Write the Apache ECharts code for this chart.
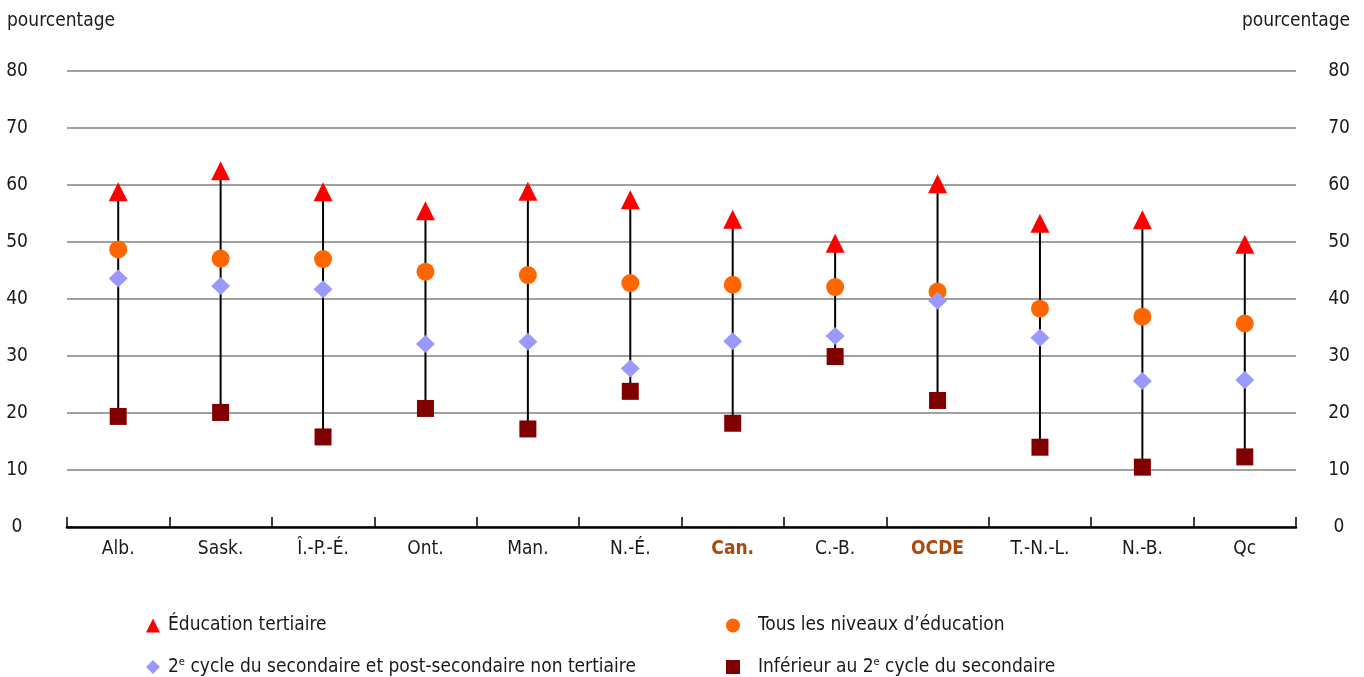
<!DOCTYPE html>
<html>
<head>
<meta charset="utf-8">
<script src="https://cdn.jsdelivr.net/npm/echarts@6/dist/echarts.min.js"></script>
<style>
  html, body { margin: 0; padding: 0; background: #fff; }
  #chart { width: 1364px; height: 677px; }
</style>
</head>
<body>
<div id="chart"></div>
<script>
// Regions along the x axis (Canada and OECD averages are highlighted)
const regions = ['Alb.', 'Sask.', 'Î.-P.-É.', 'Ont.', 'Man.', 'N.-É.', 'Can.', 'C.-B.', 'OCDE', 'T.-N.-L.', 'N.-B.', 'Qc'];
const highlighted = ['Can.', 'OCDE'];

// Percentages by education level
const tertiary            = [58.8, 62.5, 58.8, 55.5, 58.9, 57.4, 54.0, 49.8, 60.2, 53.3, 53.9, 49.6];
const allLevels           = [48.7, 47.1, 47.0, 44.8, 44.2, 42.8, 42.5, 42.1, 41.3, 38.3, 36.9, 35.7];
const upperSecondary      = [43.6, 42.3, 41.7, 32.1, 32.5, 27.8, 32.6, 33.5, 39.7, 33.2, 25.6, 25.8];
const belowUpperSecondary = [19.4, 20.1, 15.8, 20.8, 17.2, 23.8, 18.2, 29.9, 22.2, 14.0, 10.5, 12.3];

// Series names shown in the legend
const nameTertiary = 'Éducation tertiaire';
const nameAll = 'Tous les niveaux d’éducation';
const nameUpper = '2e cycle du secondaire et post-secondaire non tertiaire';
const nameBelow = 'Inférieur au 2e cycle du secondaire';

const yMin = 0, yMax = 80, yStep = 10;
const axisTitle = 'pourcentage';

const FONT = '"Liberation Sans Narrow", "DejaVu Sans Condensed", "Arial Narrow", sans-serif';
const FS = 19;
const TEXT = '#1a1a1a';
const ACCENT = '#A8490F';

// Vertical range (min..max) for each region, derived from the four series
const ranges = regions.map((_, i) => {
  const vals = [tertiary[i], allLevels[i], upperSecondary[i], belowUpperSecondary[i]];
  return [i, Math.min(...vals), Math.max(...vals)];
});

// Turn "2e" into a superscript e in legend labels
function supFormat(name) {
  return name.replace(/2e /g, '2{sup|e} ');
}
const legendText = {
  fontFamily: FONT, fontSize: FS, color: TEXT,
  rich: { sup: { fontFamily: FONT, fontSize: 11, color: TEXT, verticalAlign: 'top', padding: [0, 0, 9, 0] } }
};

function makeLegend(name, icon, left, top, textPad) {
  return {
    data: [{ name: name, icon: icon }],
    left: left, top: top,
    padding: 0,
    itemWidth: 14, itemHeight: 14,
    selectedMode: false,
    formatter: supFormat,
    textStyle: Object.assign({ padding: [0, 0, 0, textPad] }, legendText)
  };
}

const chart = echarts.init(document.getElementById('chart'));

chart.setOption({
  animation: false,
  backgroundColor: '#fff',
  textStyle: { fontFamily: FONT },
  grid: { left: 67, right: 68, top: 71, bottom: 150 },
  graphic: [
    { type: 'text', left: 7, top: 12, style: { text: axisTitle, font: FS + 'px ' + FONT, fill: TEXT } },
    { type: 'text', right: 14, top: 12, style: { text: axisTitle, font: FS + 'px ' + FONT, fill: TEXT } }
  ],
  legend: [
    makeLegend(nameTertiary, 'triangle', 146, 616, 3),
    makeLegend(nameAll, 'circle', 726, 616, 13),
    makeLegend(nameUpper, 'diamond', 146, 657, 3),
    makeLegend(nameBelow, 'rect', 726, 657, 13)
  ],
  xAxis: {
    type: 'category',
    data: regions,
    boundaryGap: true,
    axisLine: { lineStyle: { color: '#000', width: 2.5 } },
    axisTick: { show: true, inside: true, interval: 0, length: 10, lineStyle: { color: '#000', width: 1.5 } },
    axisLabel: {
      interval: 0,
      margin: 13,
      fontFamily: FONT, fontSize: FS, color: TEXT,
      formatter: v => highlighted.includes(v) ? '{hl|' + v + '}' : v,
      rich: { hl: { fontFamily: FONT, fontSize: FS, fontWeight: 'bold', color: ACCENT } }
    },
    splitLine: { show: false }
  },
  yAxis: [
    {
      type: 'value', position: 'left', min: yMin, max: yMax, interval: yStep,
      axisLine: { show: false }, axisTick: { show: false },
      axisLabel: { align: 'center', margin: 50, fontFamily: FONT, fontSize: FS, color: TEXT },
      splitLine: { lineStyle: { color: '#a0a0a0', width: 2 } }
    },
    {
      type: 'value', position: 'right', min: yMin, max: yMax, interval: yStep,
      axisLine: { show: false }, axisTick: { show: false },
      axisLabel: { align: 'center', margin: 43, fontFamily: FONT, fontSize: FS, color: TEXT },
      splitLine: { show: false }
    }
  ],
  series: [
    {
      type: 'custom',
      name: 'range',
      data: ranges,
      encode: { x: 0, y: [1, 2] },
      z: 1,
      renderItem: (params, api) => {
        const lo = api.coord([api.value(0), api.value(1)]);
        const hi = api.coord([api.value(0), api.value(2)]);
        return {
          type: 'line',
          shape: { x1: lo[0], y1: lo[1], x2: hi[0], y2: hi[1] },
          style: { stroke: '#000', lineWidth: 2 }
        };
      }
    },
    {
      type: 'scatter', name: nameAll, data: allLevels, z: 2,
      symbol: 'circle', symbolSize: 18, itemStyle: { color: '#FF6600', opacity: 1 }
    },
    {
      type: 'scatter', name: nameUpper, data: upperSecondary, z: 3,
      symbol: 'diamond', symbolSize: [19, 18], itemStyle: { color: '#9999FF', opacity: 1 }
    },
    {
      type: 'scatter', name: nameBelow, data: belowUpperSecondary, z: 4,
      symbol: 'rect', symbolSize: 17, itemStyle: { color: '#800000', opacity: 1 }
    },
    {
      type: 'scatter', name: nameTertiary, data: tertiary, z: 5,
      symbol: 'triangle', symbolSize: [19, 19], itemStyle: { color: '#FF0000', opacity: 1 }
    }
  ]
});
</script>
</body>
</html>
